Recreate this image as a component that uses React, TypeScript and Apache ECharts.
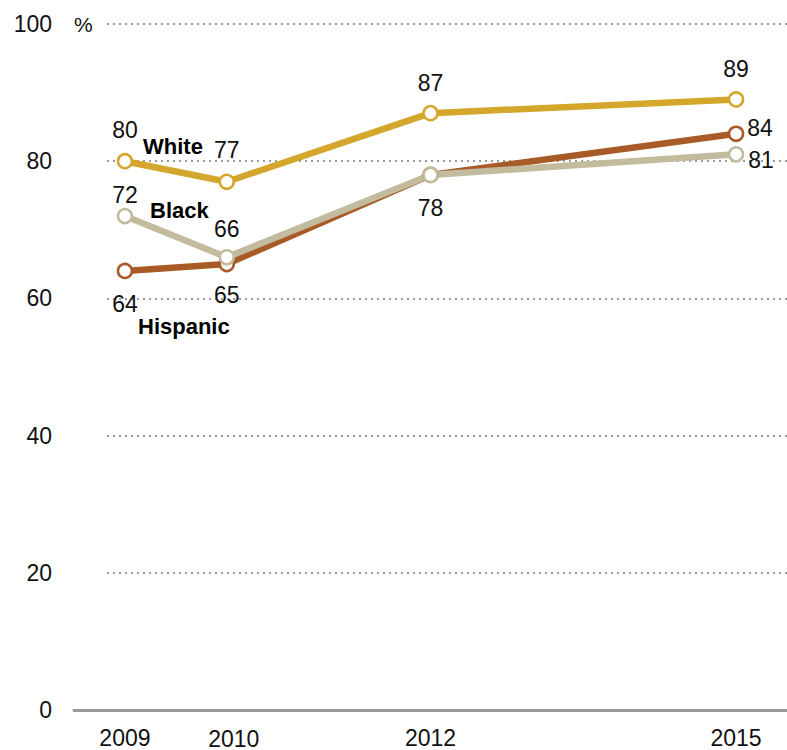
import React, { useEffect, useRef } from "react";
import * as echarts from "echarts";

const years = [2009, 2010, 2012, 2015];
const whiteValues = [80, 77, 87, 89];
const blackValues = [72, 66, 78, 81];
const hispanicValues = [64, 65, 78, 84];
const yTicks = [0, 20, 40, 60, 80, 100];
const seriesNames = ["Hispanic", "Black", "White"];

const FONT = "'Liberation Sans', Arial, sans-serif";
const FS = 23;
const COLORS = { White: "#d4a72c", Black: "#c2bb9e", Hispanic: "#a85b27" };

type LabelCfg = { show: boolean; position?: string; distance?: number; offset?: number[] };

const whiteLabels: LabelCfg[] = [
  { show: true, position: "top", distance: 11 },
  { show: true, position: "top", distance: 12 },
  { show: true, position: "top", distance: 10 },
  { show: true, position: "top", distance: 11 },
];
const blackLabels: LabelCfg[] = [
  { show: true, position: "top", distance: 1 },
  { show: true, position: "top", distance: 8 },
  { show: false },
  { show: true, position: "right", distance: 4, offset: [0, 6] },
];
const hispanicLabels: LabelCfg[] = [
  { show: true, position: "bottom", distance: 13 },
  { show: true, position: "bottom", distance: 11 },
  { show: true, position: "bottom", distance: 13 },
  { show: true, position: "right", distance: 3, offset: [0, -6] },
];

function buildSeries(name: string, values: number[], labels: LabelCfg[]) {
  const color = (COLORS as any)[name];
  return {
    name,
    type: "line",
    xAxisIndex: 1,
    yAxisIndex: 1,
    symbol: "circle",
    symbolSize: 14,
    lineStyle: { color, width: 6.5 },
    itemStyle: { color: "#ffffff", borderColor: color, borderWidth: 2.5 },
    data: values.map((v, i) => ({
      value: [years[i], v],
      label: {
        ...labels[i],
        color: "#111",
        fontSize: FS,
        fontFamily: FONT,
        formatter: String(v),
      },
    })),
  };
}

export default function App() {
  const ref = useRef<HTMLDivElement>(null);
  useEffect(() => {
    if (!ref.current) return;
    const chart = echarts.init(ref.current, undefined, { renderer: "svg" });
    const nameStyle = { fontSize: 22, fontWeight: "bold", fontFamily: FONT, fill: "#000", verticalAlign: "middle" };
    const option: any = {
      animation: false,
      backgroundColor: "#ffffff",
      grid: [
        { left: 107, right: 0, top: 24, bottom: 40, outerBoundsMode: "none" },
        { left: 74, right: 0, top: 24, bottom: 40, outerBoundsMode: "none" },
      ],
      xAxis: [
        { gridIndex: 0, type: "value", min: 0, max: 1, show: false },
        {
          gridIndex: 1,
          type: "value",
          min: 2008.5,
          max: 2015.5,
          axisLine: { show: true, lineStyle: { color: "#999", width: 3 } },
          axisTick: { show: false },
          splitLine: { show: false },
          axisLabel: {
            customValues: years,
            margin: 16,
            fontSize: FS,
            fontFamily: FONT,
            color: "#111",
            formatter: (v: number) => (v === 2010 ? `{b|${v}}` : `{a|${v}}`),
            rich: {
              a: { fontSize: FS, fontFamily: FONT, color: "#111" },
              b: { fontSize: FS, fontFamily: FONT, color: "#111", padding: [1, 0, 0, 14] },
            },
          },
        },
      ],
      yAxis: [
        {
          gridIndex: 0,
          type: "value",
          min: yTicks[0],
          max: yTicks[yTicks.length - 1],
          interval: 20,
          axisLine: { show: false },
          axisTick: { show: false },
          axisLabel: { margin: 55, fontSize: FS, fontFamily: FONT, color: "#111" },
          splitLine: { show: true, lineStyle: { color: "#999", width: 2, type: [2, 4] } },
        },
        { gridIndex: 1, type: "value", min: 0, max: 100, show: false },
      ],
      series: [
        buildSeries(seriesNames[0], hispanicValues, hispanicLabels),
        buildSeries(seriesNames[1], blackValues, blackLabels),
        buildSeries(seriesNames[2], whiteValues, whiteLabels),
      ],
      graphic: [
        {
          type: "text",
          left: 74,
          top: 14,
          style: { text: "%", fontSize: 21, fontFamily: FONT, fill: "#111" },
        },
        { type: "text", x: 143, y: 146, style: { text: "White", ...nameStyle } },
        { type: "text", x: 150, y: 210, style: { text: "Black", ...nameStyle } },
        { type: "text", x: 138, y: 326, style: { text: "Hispanic", ...nameStyle } },
      ],
    };
    chart.setOption(option);
    return () => chart.dispose();
  }, []);
  return (
    <div
      ref={ref}
      style={{ position: "absolute", left: 0, top: 0, width: 787, height: 750 }}
    />
  );
}
